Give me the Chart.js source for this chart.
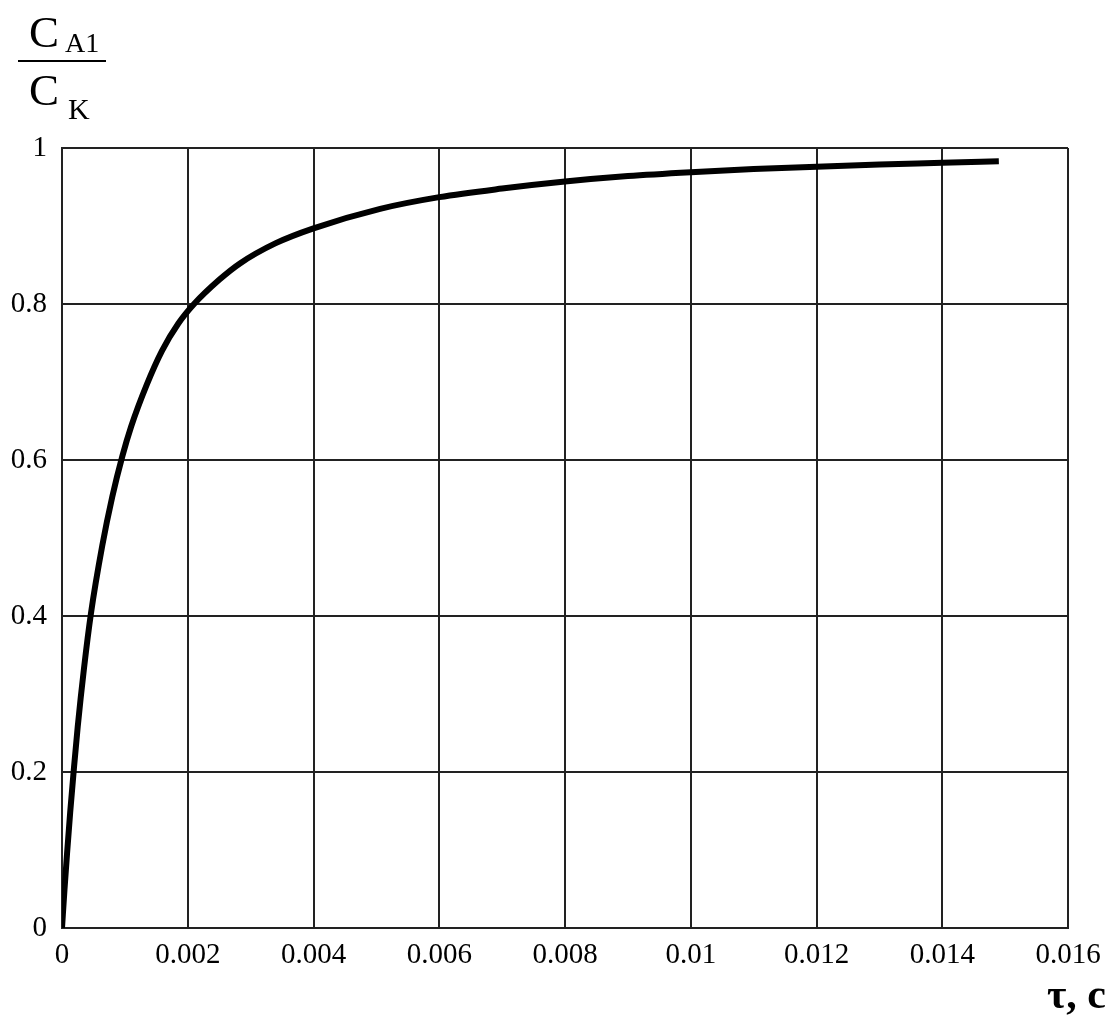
<!DOCTYPE html>
<html>
<head>
<meta charset="utf-8">
<script src="https://cdn.jsdelivr.net/npm/chart.js@4/dist/chart.umd.min.js"></script>
<style>
  html, body { margin: 0; padding: 0; background: #fff; }
  #wrap { width: 1114px; height: 1017px; }
</style>
</head>
<body>
<div id="wrap"><canvas id="myChart" width="1114" height="1017"></canvas></div>
<script>
// time, s
const tau = [0, 0.00004, 0.00008, 0.00013, 0.00019, 0.00025, 0.00035, 0.00046, 0.00064, 0.0008,
  0.00096, 0.0011, 0.00135, 0.00159, 0.00185, 0.0021, 0.0025, 0.00283, 0.0034, 0.004,
  0.00506, 0.006, 0.007, 0.008, 0.009, 0.01, 0.011, 0.012, 0.013, 0.014, 0.0149];
// C_A1 / C_K
const ratio = [0, 0.05, 0.095, 0.148, 0.205, 0.258, 0.333, 0.403, 0.49, 0.553,
  0.605, 0.643, 0.697, 0.74, 0.775, 0.8, 0.831, 0.852, 0.878, 0.897,
  0.922, 0.937, 0.948, 0.957, 0.964, 0.969, 0.973, 0.976, 0.979, 0.981, 0.983];

const xTickLabels = ['0', '0.002', '0.004', '0.006', '0.008', '0.01', '0.012', '0.014', '0.016'];
const yTickLabels = ['0', '0.2', '0.4', '0.6', '0.8', '1'];

const points = tau.map((t, i) => ({ x: t, y: ratio[i] }));

const serif = '"Liberation Serif", "Times New Roman", serif';

// axis captions: the fraction C_A1 / C_K and "τ, c"
const captions = {
  id: 'captions',
  afterDraw(chart) {
    const c = chart.ctx;
    c.save();
    c.fillStyle = '#000';
    c.textBaseline = 'alphabetic';
    c.textAlign = 'left';
    c.font = '45px ' + serif;
    c.fillText('C', 29, 47);
    c.fillText('C', 29, 105);
    c.font = '28px ' + serif;
    c.fillText('A1', 65, 52);
    c.font = '30px ' + serif;
    c.fillText('K', 68, 119);
    c.fillRect(18, 60, 88, 2);
    c.font = 'bold 42px ' + serif;
    c.textAlign = 'right';
    c.fillText('τ, c', 1106, 1008);
    c.restore();
  }
};

const cxt = document.getElementById('myChart').getContext('2d');
const myChart = new Chart(cxt, {
  type: 'line',
  data: {
    datasets: [{
      data: points,
      borderColor: '#000',
      borderWidth: 6,
      pointRadius: 0,
      fill: false,
      cubicInterpolationMode: 'monotone'
    }]
  },
  options: {
    responsive: false,
    animation: false,
    devicePixelRatio: 1,
    layout: { padding: { top: 148, right: 46, left: 0, bottom: 0 } },
    plugins: { legend: { display: false }, tooltip: { enabled: false } },
    scales: {
      x: {
        type: 'linear',
        min: 0,
        max: 0.016,
        afterFit: s => { s.height = 89; },
        afterBuildTicks: s => { s.ticks = xTickLabels.map((_, i) => ({ value: i * 0.002 })); },
        ticks: {
          color: '#000',
          font: { family: serif, size: 29 },
          padding: 10,
          maxRotation: 0,
          autoSkip: false,
          callback: (v, i) => xTickLabels[i]
        },
        grid: { color: '#222', lineWidth: 2, drawTicks: false },
        border: { color: '#222', width: 2 }
      },
      y: {
        type: 'linear',
        min: 0,
        max: 1,
        afterFit: s => { s.width = 62; },
        afterBuildTicks: s => { s.ticks = yTickLabels.map((_, i) => ({ value: i * 0.2 })); },
        ticks: {
          color: '#000',
          font: { family: serif, size: 29 },
          padding: 15,
          autoSkip: false,
          callback: (v, i) => yTickLabels[i]
        },
        grid: { color: '#222', lineWidth: 2, drawTicks: false },
        border: { color: '#222', width: 2 }
      }
    }
  },
  plugins: [captions]
});
</script>
</body>
</html>
